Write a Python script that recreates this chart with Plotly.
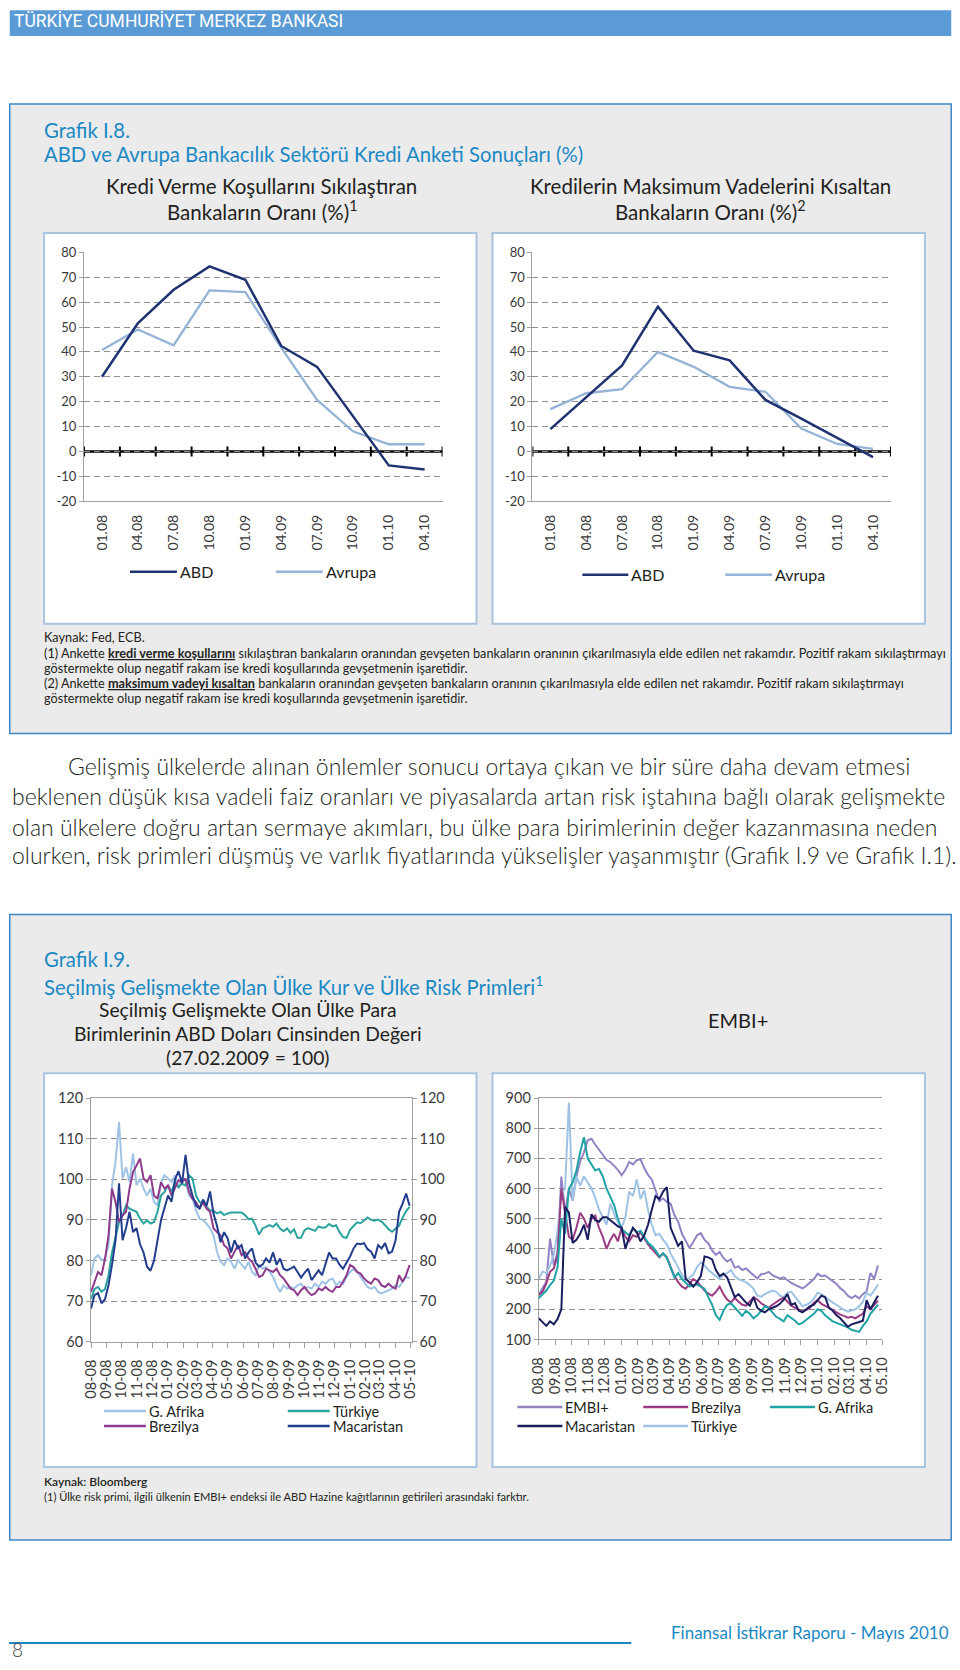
import plotly.graph_objects as go
import pandas as pd

W, H = 960, 1670
FONT = "Lato"
# the photographed page shows an 8px frame around the 960x1670 page and is then
# resized back to 960x1670; positions below are given in the photographed pixels
PAD = 8
SX = W / (W + 2 * PAD)
SY = H / (H + 2 * PAD)

# ---------------- Grafik I.8 data ----------------
survey_periods = ["01.08", "04.08", "07.08", "10.08", "01.09", "04.09", "07.09", "10.09", "01.10", "04.10"]
lending_abd = [30, 51.5, 65, 74.4, 69, 42.4, 34, 14, -5.6, -7.2]
lending_avrupa = [40.8, 49, 42.7, 64.7, 64, 41.7, 20.7, 8.1, 2.9, 2.9]
maturity_abd = [9, 22, 34.6, 58.2, 40.5, 36.6, 20.7, 13.2, 5.5, -2.3]
maturity_avrupa = [17, 23.4, 25, 40, 34, 26, 24, 9.2, 3, 1]
survey_series_names = ["ABD", "Avrupa"]
survey_y_ticks = [-20, -10, 0, 10, 20, 30, 40, 50, 60, 70, 80]
survey_y_labels = ["-20", "-10", "0", "10", "20", "30", "40", "50", "60", "70", "80"]

# ---------------- Grafik I.9 data (weekly readings) ----------------
fx_start = "2008-08-01"
fx_macaristan = [68.2, 71.5, 72, 69.5, 70.5, 74, 79, 85, 99, 85,
                 88, 92, 87, 88, 84, 82, 78.5, 77.5, 80, 85,
                 90, 93, 96, 94.5, 100, 102, 99, 106, 99, 96,
                 93.5, 92.8, 95, 93.5, 97, 91.5, 88.5, 84.5, 87, 85.5,
                 82, 85, 83, 83.8, 80.5, 82, 83, 79.5, 78.5, 79,
                 80.5, 79.5, 82, 79, 80.5, 78, 77.6, 78, 78.5, 77.2,
                 75.8, 77, 78, 75.2, 76.4, 77.6, 76.4, 79, 82, 80.5,
                 80.5, 79, 78, 79.5, 81, 83, 84.2, 84, 84.3, 82.8,
                 82.2, 80.5, 83.8, 83, 84.3, 81.8, 82.2, 85, 92, 94,
                 96.5, 93.5]
fx_turkiye = [70.5, 73, 73.5, 72.3, 73, 76.4, 82, 85.4, 89.5, 91.1,
              93.6, 92.8, 92.4, 92, 90.3, 89.1, 89.9, 89.1, 89.5, 92,
              96, 96.9, 98.5, 96.9, 99.3, 98.1, 98.9, 98.5, 101, 100.2,
              96, 94.4, 94, 93.2, 92.4, 92.2, 91.6, 92, 91.2, 91.6,
              91.8, 91.8, 91.8, 91.8, 91.2, 90.2, 90.3, 88.6, 86.4, 87.9,
              88.3, 88.7, 88.3, 89.1, 87.9, 87.2, 87.9, 86.8, 87.7, 85.6,
              85.6, 87.5, 88, 87.7, 87.3, 88.4, 88.1, 88.2, 89, 88.4,
              88.7, 87, 85.8, 85.6, 87.6, 88.5, 89.4, 89.2, 90, 90.6,
              90, 89.8, 90.1, 89.6, 88.7, 87.7, 87.1, 87.8, 88.6, 90.5,
              92.2, 93.2]
fx_gafrika = [76.4, 80.5, 81.3, 80.1, 80.5, 83.8, 98.5, 104.3, 114.1, 100.2,
              103, 99.3, 106.3, 98.5, 100.2, 97.7, 96, 97.7, 94.4, 93.6,
              99.3, 101, 100.2, 99.3, 101, 97.7, 100.2, 99.8, 96, 95.2,
              92.4, 90.3, 89.9, 89.1, 87.9, 86.2, 82.1, 79.7, 78.9, 80.5,
              79.7, 78, 80.1, 78.9, 78, 79.7, 77.2, 76.4, 78.9, 78,
              78.4, 77.2, 76, 73.9, 72.3, 73.9, 73.1, 73.5, 73.1, 73.9,
              74.3, 73.1, 73.5, 73.1, 74.3, 73.5, 74.8, 74.3, 75.2, 75.6,
              73.9, 74.8, 74.3, 76, 77.2, 78, 77.2, 76, 74.8, 73.5,
              73.1, 73.5, 72.3, 71.9, 72.3, 72.7, 73.1, 73.9, 73.5, 74.8,
              76, 75.6]
fx_brezilya = [72.3, 74.8, 77.2, 76.4, 80.5, 86.2, 97.7, 94.4, 89.5, 91.1,
               92, 97.7, 101.8, 103.4, 105.1, 100.2, 99.3, 101, 96, 95.2,
               99.3, 97.7, 98.5, 96, 97.7, 99.8, 99.3, 100.2, 96.9, 95.2,
               94.4, 92.8, 94.4, 92.8, 92, 87.9, 87, 86.2, 83.8, 83,
               80.5, 82.1, 83.8, 81.3, 82.1, 80.5, 79.7, 78, 76, 76.4,
               78, 77.6, 77.2, 78, 76.4, 75.6, 74.3, 73.1, 72.7, 71.5,
               72.7, 73.5, 72.3, 71.5, 71.9, 73.1, 72.7, 73.5, 72.7, 72.3,
               73.5, 73.5, 74.8, 76.4, 78.9, 78.4, 77.2, 76.8, 75.6, 74.8,
               74.3, 75.6, 75.2, 73.9, 73.5, 74.3, 73.5, 73.1, 76.4, 74.8,
               76.4, 78.9]
fx_series_names = ["G. Afrika", "Türkiye", "Brezilya", "Macaristan"]
fx_tick_labels = ["08-08", "09-08", "10-08", "11-08", "12-08", "01-09", "02-09", "03-09",
                  "04-09", "05-09", "06-09", "07-09", "08-09", "09-09", "10-09", "11-09",
                  "12-09", "01-10", "02-10", "03-10", "04-10", "05-10"]
fx_y_ticks = [60, 70, 80, 90, 100, 110, 120]

embi_plus = [247, 269, 291, 434, 346, 390, 640, 520, 600, 560,
             640, 690, 720, 760, 765, 745, 730, 712, 695, 688,
             675, 662, 644, 662, 688, 680, 694, 697, 668, 645,
             630, 590, 558, 567, 556, 550, 512, 490, 450, 427,
             403, 423, 445, 452, 430, 418, 395, 380, 390, 370,
             358, 366, 338, 342, 330, 335, 324, 312, 302, 316,
             318, 324, 313, 307, 302, 306, 296, 287, 281, 274,
             269, 278, 289, 300, 318, 310, 312, 302, 292, 284,
             270, 260, 245, 237, 245, 236, 250, 260, 320, 300,
             345]
embi_brezilya = [247, 258, 285, 324, 335, 379, 600, 520, 440, 430,
                 470, 520, 500, 470, 500, 510, 470, 440, 400, 430,
                 450, 425, 470, 440, 425, 445, 440, 455, 435, 415,
                 400, 385, 372, 385, 372, 340, 310, 290, 275, 268,
                 285, 300, 292, 278, 262, 252, 245, 258, 275, 250,
                 232, 222, 238, 225, 215, 212, 225, 240, 232, 220,
                 212, 205, 215, 225, 232, 238, 225, 212, 205, 198,
                 192, 198, 205, 222, 230, 218, 212, 205, 198, 190,
                 182, 178, 172, 175, 170, 178, 185, 210, 200, 215,
                 228]
embi_gafrika = [236, 250, 262, 280, 295, 340, 500, 450, 600, 620,
                660, 720, 770, 700, 680, 660, 665, 640, 600, 575,
                545, 500, 465, 455, 445, 470, 455, 460, 440, 420,
                410, 395, 375, 385, 370, 340, 305, 320, 300, 288,
                275, 280, 282, 275, 268, 240, 215, 180, 165, 195,
                215, 220, 205, 190, 178, 195, 185, 170, 180, 195,
                210, 205, 190, 175, 168, 160, 180, 172, 162, 150,
                155, 165, 175, 185, 200, 195, 180, 170, 160, 155,
                150, 145, 140, 132, 128, 125, 145, 160, 185, 200,
                215]
embi_macaristan = [170, 158, 145, 160, 150, 168, 200, 540, 520, 420,
                   430, 450, 480, 430, 515, 495, 490, 505, 505, 495,
                   485, 475, 470, 400, 440, 470, 455, 425, 445, 480,
                   530, 575, 565, 590, 605, 470, 440, 410, 425, 300,
                   290, 275, 290, 310, 375, 372, 365, 330, 310, 318,
                   305, 270, 240, 250, 235, 222, 212, 240, 205, 195,
                   190, 200, 205, 210, 218, 232, 250, 215, 220, 195,
                   190, 200, 210, 215, 230, 245, 240, 205, 195, 180,
                   170, 155, 142, 150, 155, 158, 162, 230, 200, 225,
                   245]
embi_turkiye = [300, 325, 320, 345, 380, 460, 580, 600, 885, 560,
                640, 610, 640, 620, 600, 570, 530, 505, 480, 550,
                515, 490, 470, 505, 590, 575, 630, 565, 595, 530,
                480, 445, 450, 430, 415, 385, 360, 335, 315, 300,
                305, 315, 340, 355, 345, 330, 320, 310, 300, 315,
                320, 330, 310, 300, 295, 290, 280, 268, 245, 242,
                250, 255, 262, 258, 245, 240, 255, 258, 242, 225,
                210, 215, 222, 235, 255, 250, 240, 232, 222, 215,
                205, 198, 192, 195, 200, 210, 225, 255, 245, 262,
                282]
embi_series_names = ["EMBI+", "Brezilya", "G. Afrika", "Macaristan", "Türkiye"]
embi_tick_labels = ["08.08", "09.08", "10.08", "11.08", "12.08", "01.09", "02.09", "03.09",
                    "04.09", "05.09", "06.09", "07.09", "08.09", "09.09", "10.09", "11.09",
                    "12.09", "01.10", "02.10", "03.10", "04.10", "05.10"]
embi_y_ticks = [100, 200, 300, 400, 500, 600, 700, 800, 900]

# ---------------- colours ----------------
C_NAVY = "#1f3370"
C_LIGHT = "#95b3d7"
C_TEAL = "#2aa39f"
C_PURPLE = "#8e3b8c"
C_NAVY2 = "#223d8c"
C_LAV = "#9383c4"
C_MAG = "#9b3c82"
C_TEAL2 = "#1fa3a6"
C_NAVY3 = "#1b1e5e"
C_LIGHT2 = "#9fc3e4"
BLUE_TITLE = "#1b88c4"
AXIS_GRAY = "#a0a0a0"
GRID = "#8f8f8f"
TICK_C = "#3a3a3a"
TXT = "#231f20"


# photographed pixel -> paper fraction
def px(x):
    return (x / SX - PAD) / W


def py(y):
    return 1 - (y / SY - PAD) / H


def clip(v):
    return min(max(v, 0.0008), 0.9992)


shapes = []
annotations = []


def rect(x0, y0, x1, y1, fill, line_color=None, lw=0):
    shapes.append(dict(type="rect", xref="paper", yref="paper",
                       x0=clip(px(x0)), x1=clip(px(x1)), y0=clip(py(y1)), y1=clip(py(y0)),
                       fillcolor=fill, line=dict(color=line_color or fill, width=lw),
                       layer="below"))


def text(x, y, s, size, color=TXT, xanchor="left", family=FONT, weight="normal", yanchor="middle"):
    annotations.append(dict(x=px(x), y=py(y), xref="paper", yref="paper", text=s,
                            showarrow=False, xanchor=xanchor, yanchor=yanchor,
                            align=xanchor,
                            font=dict(size=size, color=color, family=family, weight=weight)))


def legend_item(x0, x1, y, name, color, width=2.5, size=15):
    shapes.append(dict(type="line", xref="paper", yref="paper",
                       x0=px(x0), x1=px(x1), y0=py(y), y1=py(y),
                       line=dict(color=color, width=width)))
    text(x1 + 1, y, name, size)


# ---------------- page frame ----------------
rect(5, 5, 955, 35, "#5b9bd5")
text(11, 20, "TÜRKİYE CUMHURİYET MERKEZ BANKASI", 17.5, color="white", family="Roboto")

# Grafik I.8 panel
rect(2.5, 103, 957.5, 733, "#ebebeb", "#3f88c5", 1.5)
rect(43, 232, 476, 623, "white", "#a9c4df", 2)
rect(492, 232, 925, 623, "white", "#a9c4df", 2)

text(41, 129, "Grafik I.8.", 20.3, BLUE_TITLE)
text(41, 153, "ABD ve Avrupa Bankacılık Sektörü Kredi Anketi Sonuçları (%)", 20.3, BLUE_TITLE)
text(261, 185, "Kredi Verme Koşullarını Sıkılaştıran", 20.5, xanchor="center")
text(261, 210, "Bankaların Oranı (%)<sup>1</sup>", 20.5, xanchor="center")
text(710, 185, "Kredilerin Maksimum Vadelerini Kısaltan", 20.5, xanchor="center")
text(710, 210, "Bankaların Oranı (%)<sup>2</sup>", 20.5, xanchor="center")

FN = 12.7
text(41, 636, "Kaynak: Fed, ECB.", FN)
text(41, 652, "(1) Ankette <b><span style='text-decoration:underline'>kredi verme koşullarını</span></b> "
     "sıkılaştıran bankaların oranından gevşeten bankaların oranının çıkarılmasıyla elde edilen "
     "net rakamdır. Pozitif rakam sıkılaştırmayı", FN)
text(41, 667, "göstermekte olup negatif rakam ise kredi koşullarında gevşetmenin işaretidir.", FN)
text(41, 682, "(2) Ankette <b><span style='text-decoration:underline'>maksimum vadeyi kısaltan</span></b> "
     "bankaların oranından gevşeten bankaların oranının çıkarılmasıyla elde edilen net rakamdır. "
     "Pozitif rakam sıkılaştırmayı", FN)
text(41, 697, "göstermekte olup negatif rakam ise kredi koşullarında gevşetmenin işaretidir.", FN)

# body paragraph
para = ["Gelişmiş ülkelerde alınan önlemler sonucu ortaya çıkan ve bir süre daha devam etmesi",
        "beklenen düşük kısa vadeli faiz oranları ve piyasalarda artan risk iştahına bağlı olarak gelişmekte",
        "olan ülkelere doğru artan sermaye akımları, bu ülke para birimlerinin değer kazanmasına neden",
        "olurken, risk primleri düşmüş ve varlık fiyatlarında yükselişler yaşanmıştır (Grafik I.9 ve Grafik I.1)."]
para_y = [765, 795, 826, 855]
for i, (line, yy) in enumerate(zip(para, para_y)):
    text(65 if i == 0 else 8.5, yy, line, 23.0, weight=300)

# Grafik I.9 panel
rect(2.5, 914, 957.5, 1540, "#ebebeb", "#3f88c5", 1.5)
rect(43, 1073, 476, 1467, "white", "#a9c4df", 2)
rect(492, 1073, 925, 1467, "white", "#a9c4df", 2)
text(41, 959, "Grafik I.9.", 20.3, BLUE_TITLE)
text(41, 985, "Seçilmiş Gelişmekte Olan Ülke Kur ve Ülke Risk Primleri<sup>1</sup>", 20.3, BLUE_TITLE)
text(247, 1009, "Seçilmiş Gelişmekte Olan Ülke Para", 19.3, xanchor="center")
text(247, 1033, "Birimlerinin ABD Doları Cinsinden Değeri", 19.3, xanchor="center")
text(247, 1057, "(27.02.2009 = 100)", 19.3, xanchor="center")
text(738, 1020, "EMBI+", 20, xanchor="center")
text(41, 1481, "Kaynak: Bloomberg", 12, weight=600)
text(41, 1496, "(1) Ülke risk primi, ilgili ülkenin EMBI+ endeksi ile ABD Hazine kağıtlarının getirileri arasındaki farktır.", 11.1)

# footer
shapes.append(dict(type="line", xref="paper", yref="paper", x0=0, x1=px(631), y0=py(1643), y1=py(1643),
                   line=dict(color=BLUE_TITLE, width=2)))
text(951, 1633, "Finansal İstikrar Raporu - Mayıs 2010", 17, BLUE_TITLE, xanchor="right")
text(8.5, 1650, "8", 19, "#444444", weight=300)

# ---------------- traces ----------------
fig = go.Figure()


def line_trace(x, y, color, width, xa, ya, name):
    fig.add_trace(go.Scatter(x=x, y=y, mode="lines", name=name,
                             line=dict(color=color, width=width),
                             xaxis=xa, yaxis=ya, hoverinfo="skip", showlegend=False))


line_trace(survey_periods, lending_avrupa, C_LIGHT, 2.3, "x", "y", survey_series_names[1])
line_trace(survey_periods, lending_abd, C_NAVY, 2.5, "x", "y", survey_series_names[0])
line_trace(survey_periods, maturity_avrupa, C_LIGHT, 2.3, "x2", "y2", survey_series_names[1])
line_trace(survey_periods, maturity_abd, C_NAVY, 2.5, "x2", "y2", survey_series_names[0])

fx_dates = pd.date_range(fx_start, periods=len(fx_macaristan), freq="7D")
embi_dates = pd.date_range(fx_start, periods=len(embi_plus), freq="7D")

line_trace(fx_dates, fx_gafrika, C_LIGHT2, 2, "x3", "y3", fx_series_names[0])
line_trace(fx_dates, fx_turkiye, C_TEAL, 2, "x3", "y3", fx_series_names[1])
line_trace(fx_dates, fx_brezilya, C_PURPLE, 2, "x3", "y3", fx_series_names[2])
line_trace(fx_dates, fx_macaristan, C_NAVY2, 2, "x3", "y5", fx_series_names[3])

line_trace(embi_dates, embi_plus, C_LAV, 2, "x4", "y4", embi_series_names[0])
line_trace(embi_dates, embi_turkiye, C_LIGHT2, 2, "x4", "y4", embi_series_names[4])
line_trace(embi_dates, embi_brezilya, C_MAG, 2, "x4", "y4", embi_series_names[1])
line_trace(embi_dates, embi_gafrika, C_TEAL2, 2, "x4", "y4", embi_series_names[2])
line_trace(embi_dates, embi_macaristan, C_NAVY3, 2, "x4", "y4", embi_series_names[3])

# zero line with crossing ticks for survey charts
for xa, ya in (("x", "y"), ("x2", "y2")):
    n = len(survey_periods)
    shapes.append(dict(type="line", xref=xa, yref=ya, x0=-0.5, x1=n - 0.5, y0=0, y1=0,
                       line=dict(color="black", width=2.5), layer="below"))
    for k in range(n + 1):
        shapes.append(dict(type="line", xref=xa, yref=ya, x0=k - 0.5, x1=k - 0.5, y0=-2, y1=2,
                           line=dict(color="black", width=2), layer="below"))

# legends
legend_item(129, 176, 571, survey_series_names[0], C_NAVY, 2.5, 16)
legend_item(275, 322, 571, survey_series_names[1], C_LIGHT, 2.5, 16)
legend_item(582, 628, 574, survey_series_names[0], C_NAVY, 2.5, 16)
legend_item(725, 772, 574, survey_series_names[1], C_LIGHT, 2.5, 16)

legend_item(103, 145, 1411, fx_series_names[0], C_LIGHT2, 2.5, 14.5)
legend_item(287, 329, 1411, fx_series_names[1], C_TEAL, 2.5, 14.5)
legend_item(103, 145, 1426, fx_series_names[2], C_PURPLE, 2.5, 14.5)
legend_item(287, 329, 1426, fx_series_names[3], C_NAVY2, 2.5, 14.5)

legend_item(517, 562, 1407, embi_series_names[0], C_LAV, 2.5, 14.5)
legend_item(643, 688, 1407, embi_series_names[1], C_MAG, 2.5, 14.5)
legend_item(770, 815, 1407, embi_series_names[2], C_TEAL2, 2.5, 14.5)
legend_item(517, 562, 1426, embi_series_names[3], C_NAVY3, 2.5, 14.5)
legend_item(643, 688, 1426, embi_series_names[4], C_LIGHT2, 2.5, 14.5)


# ---------------- axes ----------------
def dom_x(a, b):
    return [px(a), px(b)]


def dom_y(top, bottom):
    return [py(bottom), py(top)]


tickfont_s = dict(size=13, color=TICK_C, family=FONT)
tickfont_b = dict(size=14.5, color=TICK_C, family=FONT)

survey_x = dict(type="category", range=[-0.5, len(survey_periods) - 0.5],
                showline=True, linecolor=AXIS_GRAY, linewidth=1, ticks="",
                tickangle=-90, tickfont=dict(size=14, color=TICK_C, family=FONT),
                showgrid=False, zeroline=False, ticklabelstandoff=7, fixedrange=True)
survey_y = dict(range=[-20, 80], tickmode="array", tickvals=survey_y_ticks, ticktext=survey_y_labels,
                showgrid=True, gridcolor=GRID, griddash="6px,4px", gridwidth=1,
                showline=True, linecolor=AXIS_GRAY, linewidth=1,
                ticks="outside", ticklen=4, tickcolor=AXIS_GRAY,
                zeroline=False, tickfont=tickfont_s, fixedrange=True)

month_ticks = pd.date_range("2008-08-01", periods=len(fx_tick_labels), freq="MS")

fx_x = dict(type="date", range=["2008-08-01", "2010-05-04"], tickmode="array",
            tickvals=month_ticks, ticktext=fx_tick_labels, tickangle=-90,
            ticks="outside", ticklen=5, tickcolor=AXIS_GRAY,
            showline=True, linecolor=AXIS_GRAY, linewidth=1, mirror=True,
            showgrid=False, zeroline=False, tickfont=tickfont_b, ticklabelstandoff=6)
fx_y = dict(range=[60, 120], tickmode="array", tickvals=fx_y_ticks,
            showgrid=True, gridcolor=GRID, griddash="6px,4px", gridwidth=1,
            showline=True, linecolor=AXIS_GRAY, linewidth=1,
            ticks="outside", ticklen=4, tickcolor=AXIS_GRAY,
            zeroline=False, tickfont=tickfont_b)
embi_x = dict(type="date", range=["2008-08-01", "2010-05-01"], tickmode="array",
              tickvals=month_ticks, ticktext=embi_tick_labels, tickangle=-90,
              ticks="outside", ticklen=5, tickcolor=AXIS_GRAY,
              showline=True, linecolor=AXIS_GRAY, linewidth=1, mirror=True,
              showgrid=False, zeroline=False, tickfont=tickfont_b, ticklabelstandoff=6)
embi_y = dict(range=[100, 900], tickmode="array", tickvals=embi_y_ticks,
              showgrid=True, gridcolor=GRID, griddash="6px,4px", gridwidth=1,
              showline=True, linecolor=AXIS_GRAY, linewidth=1,
              ticks="outside", ticklen=4, tickcolor=AXIS_GRAY,
              zeroline=False, tickfont=tickfont_b)

layout = dict(
    width=W, height=H, margin=dict(l=0, r=0, t=0, b=0),
    paper_bgcolor="white", plot_bgcolor="rgba(0,0,0,0)", showlegend=False,
    font=dict(family=FONT, color=TXT),
    xaxis=dict(survey_x, domain=dom_x(83, 442), anchor="y"),
    yaxis=dict(survey_y, domain=dom_y(251.5, 500.5), anchor="x"),
    xaxis2=dict(survey_x, domain=dom_x(532, 891), anchor="y2"),
    yaxis2=dict(survey_y, domain=dom_y(251.5, 500.5), anchor="x2"),
    xaxis3=dict(fx_x, domain=dom_x(90, 411), anchor="y3"),
    yaxis3=dict(fx_y, domain=dom_y(1097.7, 1341.7), anchor="x3"),
    yaxis5=dict(fx_y, overlaying="y3", side="right", anchor="x3", showgrid=False),
    xaxis4=dict(embi_x, domain=dom_x(538.3, 882.3), anchor="y4"),
    yaxis4=dict(embi_y, domain=dom_y(1097.7, 1339.3), anchor="x4"),
    shapes=shapes, annotations=annotations,
)
fig.update_layout(**layout)

page_fix = ("document.documentElement.style.margin='0';"
            "document.documentElement.style.padding='0';"
            "document.body.style.margin='0';document.body.style.padding='0';"
            "document.body.style.overflow='hidden';"
            "var d=document.getElementById('{plot_id}');"
            "d.style.position='absolute';d.style.left='0px';d.style.top='0px';")
fig.write_html("out.html", config={"displayModeBar": False}, post_script=page_fix)
